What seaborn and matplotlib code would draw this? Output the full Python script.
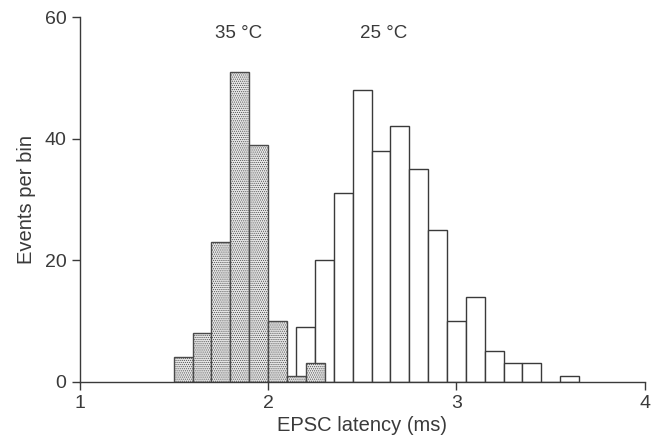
import numpy as np
import pandas as pd
import matplotlib
matplotlib.use("Agg")
import matplotlib.pyplot as plt
import seaborn as sns

# Data
edges_35 = [1.5, 1.6, 1.7, 1.8, 1.9, 2.0, 2.1, 2.2, 2.3]
counts_35 = [4, 8, 23, 51, 39, 10, 1, 3]
edges_25 = [2.15, 2.25, 2.35, 2.45, 2.55, 2.65, 2.75, 2.85, 2.95, 3.05,
            3.15, 3.25, 3.35, 3.45, 3.55, 3.65]
counts_25 = [9, 20, 31, 48, 38, 42, 35, 25, 10, 14, 5, 3, 3, 0, 1]
x_ticks = [1, 2, 3, 4]
y_ticks = [0, 20, 40, 60]

sns.set_style("ticks")
plt.rcParams['font.family'] = ['Liberation Sans', 'DejaVu Sans']
plt.rcParams['hatch.color'] = '#a5a5a5'
plt.rcParams['hatch.linewidth'] = 0.5

ink = '#3a3a3a'
fig = plt.figure(figsize=(6.52, 4.42), dpi=100)
ax = fig.add_axes([0.122, 0.1364, 0.867, 0.8251])

c35 = [(a + b) / 2 for a, b in zip(edges_35[:-1], edges_35[1:])]
c25 = [(a + b) / 2 for a, b in zip(edges_25[:-1], edges_25[1:])]

sns.histplot(x=c25, weights=counts_25, bins=edges_25, ax=ax,
             color='white', edgecolor=ink, linewidth=1.0, alpha=1)
sns.histplot(x=c35, weights=counts_35, bins=edges_35, ax=ax,
             color='#e6e6e6', edgecolor='#4a4a4a', linewidth=1.0, alpha=1,
             hatch='........')

ax.set_xlim(1, 4)
ax.set_ylim(0, 60)
ax.set_xticks(x_ticks)
ax.set_yticks(y_ticks)
ax.set_xlabel('EPSC latency (ms)', fontsize=14.5, color=ink, labelpad=3)
ax.set_ylabel('Events per bin', fontsize=14.5, color=ink, labelpad=6)
ax.tick_params(labelsize=14, colors=ink, length=6, width=1, direction='out')
for s in ['top', 'right']:
    ax.spines[s].set_visible(False)
for s in ['left', 'bottom']:
    ax.spines[s].set_color(ink)
    ax.spines[s].set_linewidth(1.0)

ax.text(1.846, 57.3, '35 °C', ha='center', va='center', fontsize=13.5, color=ink)
ax.text(2.616, 57.3, '25 °C', ha='center', va='center', fontsize=13.5, color=ink)

fig.savefig('out.png', dpi=100, facecolor='white')
